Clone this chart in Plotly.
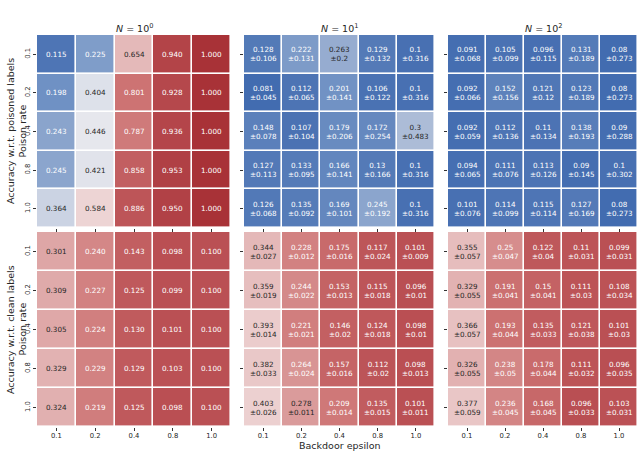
import plotly.graph_objects as go

# ---------------- data ----------------
eps_labels = ["0.1", "0.2", "0.4", "0.8", "1.0"]     # Backdoor epsilon (columns)
rate_labels = ["0.1", "0.2", "0.4", "0.8", "1.0"]    # Poison rate (rows)
panel_titles = ["<i>N</i> = 10<sup>0</sup>", "<i>N</i> = 10<sup>1</sup>", "<i>N</i> = 10<sup>2</sup>"]
row_titles = ["Accuracy w.r.t. poisoned labels", "Accuracy w.r.t. clean labels"]
row_subtitle = "Poison rate"
x_title = "Backdoor epsilon"

# accuracy w.r.t. poisoned labels
poison_n1 = [
    [0.115, 0.225, 0.654, 0.940, 1.000],
    [0.198, 0.404, 0.801, 0.928, 1.000],
    [0.243, 0.446, 0.787, 0.936, 1.000],
    [0.245, 0.421, 0.858, 0.953, 1.000],
    [0.364, 0.584, 0.886, 0.950, 1.000],
]
poison_n10_mean = [
    [0.128, 0.222, 0.263, 0.129, 0.1],
    [0.081, 0.112, 0.201, 0.106, 0.1],
    [0.148, 0.107, 0.179, 0.172, 0.3],
    [0.127, 0.133, 0.166, 0.13, 0.1],
    [0.126, 0.135, 0.169, 0.245, 0.1],
]
poison_n10_std = [
    [0.106, 0.131, 0.2, 0.132, 0.316],
    [0.045, 0.065, 0.141, 0.122, 0.316],
    [0.078, 0.104, 0.206, 0.254, 0.483],
    [0.113, 0.095, 0.141, 0.166, 0.316],
    [0.068, 0.092, 0.101, 0.192, 0.316],
]
poison_n100_mean = [
    [0.091, 0.105, 0.096, 0.131, 0.08],
    [0.092, 0.152, 0.121, 0.123, 0.08],
    [0.092, 0.112, 0.11, 0.138, 0.09],
    [0.094, 0.111, 0.113, 0.09, 0.1],
    [0.101, 0.114, 0.115, 0.127, 0.08],
]
poison_n100_std = [
    [0.068, 0.099, 0.115, 0.189, 0.273],
    [0.066, 0.156, 0.12, 0.189, 0.273],
    [0.059, 0.136, 0.134, 0.193, 0.288],
    [0.065, 0.076, 0.126, 0.145, 0.302],
    [0.076, 0.099, 0.114, 0.169, 0.273],
]

# accuracy w.r.t. clean labels
clean_n1 = [
    [0.301, 0.240, 0.143, 0.098, 0.100],
    [0.309, 0.227, 0.125, 0.099, 0.100],
    [0.305, 0.224, 0.130, 0.101, 0.100],
    [0.329, 0.229, 0.129, 0.103, 0.100],
    [0.324, 0.219, 0.125, 0.098, 0.100],
]
clean_n10_mean = [
    [0.344, 0.228, 0.175, 0.117, 0.101],
    [0.359, 0.244, 0.153, 0.115, 0.096],
    [0.393, 0.221, 0.146, 0.124, 0.098],
    [0.382, 0.264, 0.157, 0.112, 0.098],
    [0.403, 0.278, 0.209, 0.135, 0.101],
]
clean_n10_std = [
    [0.027, 0.012, 0.016, 0.024, 0.009],
    [0.019, 0.022, 0.013, 0.018, 0.01],
    [0.014, 0.021, 0.02, 0.018, 0.01],
    [0.033, 0.024, 0.016, 0.02, 0.013],
    [0.026, 0.011, 0.014, 0.015, 0.011],
]
clean_n100_mean = [
    [0.355, 0.25, 0.122, 0.11, 0.099],
    [0.329, 0.191, 0.15, 0.111, 0.108],
    [0.366, 0.193, 0.135, 0.121, 0.101],
    [0.326, 0.238, 0.178, 0.111, 0.096],
    [0.377, 0.236, 0.168, 0.096, 0.103],
]
clean_n100_std = [
    [0.057, 0.047, 0.04, 0.031, 0.031],
    [0.055, 0.041, 0.041, 0.03, 0.034],
    [0.057, 0.044, 0.033, 0.038, 0.03],
    [0.055, 0.05, 0.044, 0.032, 0.035],
    [0.059, 0.045, 0.045, 0.033, 0.031],
]

# ---------------- style ----------------
W, H = 640, 451
FONT = "DejaVu Sans"
cmap_anchors = [
    (0.0, (40, 92, 170)),
    (0.1, (72, 112, 178)),
    (0.2, (112, 146, 196)),
    (0.3, (172, 188, 215)),
    (0.4, (220, 224, 234)),
    (0.5, (242, 240, 240)),
    (0.6, (236, 207, 207)),
    (0.7, (222, 166, 166)),
    (0.8, (205, 115, 115)),
    (0.9, (186, 80, 84)),
    (1.0, (168, 50, 55)),
]
colorscale = [[t, "rgb(%d,%d,%d)" % c] for t, c in cmap_anchors]


def cmap(t):
    t = min(max(t, 0.0), 1.0)
    for (t0, c0), (t1, c1) in zip(cmap_anchors[:-1], cmap_anchors[1:]):
        if t0 <= t <= t1:
            f = (t - t0) / (t1 - t0) if t1 > t0 else 0
            return tuple(c0[i] + f * (c1[i] - c0[i]) for i in range(3))
    return cmap_anchors[-1][1]


def lum(c):
    def lin(v):
        v = v / 255.0
        return v / 12.92 if v <= 0.03928 else ((v + 0.055) / 1.055) ** 2.4
    r, g, b = (lin(v) for v in c)
    return 0.2126 * r + 0.7152 * g + 0.0722 * b


def fmt(v):
    return str(round(v, 3))


col_px = [(37, 231), (244, 435), (448, 638)]
row_px = [(35, 228), (232, 427)]

panels = [
    # (row, col, means, stds, reversed)
    (0, 0, poison_n1, None, False),
    (0, 1, poison_n10_mean, poison_n10_std, False),
    (0, 2, poison_n100_mean, poison_n100_std, False),
    (1, 0, clean_n1, None, True),
    (1, 1, clean_n10_mean, clean_n10_std, True),
    (1, 2, clean_n100_mean, clean_n100_std, True),
]

fig = go.Figure()
annotations = []
layout = {}

for k, (r, c, means, stds, rev) in enumerate(panels):
    idx = k + 1
    xa = "x" if idx == 1 else "x%d" % idx
    ya = "y" if idx == 1 else "y%d" % idx
    fig.add_trace(go.Heatmap(
        z=means, x=eps_labels, y=rate_labels,
        colorscale=colorscale, reversescale=rev, zmin=0, zmax=1,
        showscale=False, xgap=1.6, ygap=1.6, hoverinfo="skip",
        xaxis=xa, yaxis=ya,
    ))
    x0, x1 = col_px[c]
    y0, y1 = row_px[r]
    xkey = "xaxis" if idx == 1 else "xaxis%d" % idx
    ykey = "yaxis" if idx == 1 else "yaxis%d" % idx
    layout[xkey] = dict(
        domain=[x0 / W, x1 / W], anchor=ya, type="category",
        categoryorder="array", categoryarray=eps_labels,
        showgrid=False, zeroline=False, showline=False,
        ticks="outside", ticklen=3, tickwidth=0.8, tickcolor="#333333",
        showticklabels=(r == 1), ticklabelstandoff=-1,
        tickfont=dict(family=FONT, size=6.8, color="#262626"),
    )
    layout[ykey] = dict(
        domain=[1 - y1 / H, 1 - y0 / H], anchor=xa, type="category",
        categoryorder="array", categoryarray=rate_labels, autorange="reversed",
        showgrid=False, zeroline=False, showline=False,
        ticks="outside", ticklen=3, tickwidth=0.8, tickcolor="#333333",
        showticklabels=(c == 0), tickangle=-90,
        tickfont=dict(family=FONT, size=6.8, color="#262626"),
    )
    for i in range(len(rate_labels)):
        for j in range(len(eps_labels)):
            v = means[i][j]
            if stds is None:
                txt = "%.3f" % v
            else:
                txt = "%s<br>±%s" % (fmt(v), fmt(stds[i][j]))
            col = cmap(1 - v if rev else v)
            tcol = "#262626" if lum(col) > 0.395 else "#ffffff"
            # category axes: position by category index
            annotations.append(dict(
                x=j, y=i, xref=xa, yref=ya, text=txt, showarrow=False,
                font=dict(family=FONT, size=7.2, color=tcol),
                align="center",
            ))

# panel titles
for c, t in enumerate(panel_titles):
    x0, x1 = col_px[c]
    annotations.append(dict(
        x=(x0 + x1) / 2 / W, y=1 - 28 / H, xref="paper", yref="paper",
        text=t, showarrow=False, xanchor="center", yanchor="middle",
        font=dict(family=FONT, size=9.5, color="#262626"),
    ))

# row titles
for r, t in enumerate(row_titles):
    y0, y1 = row_px[r]
    yc = 1 - (y0 + y1) / 2 / H
    annotations.append(dict(
        x=10.5 / W, y=yc, xref="paper", yref="paper", text=t, textangle=-90,
        showarrow=False, xanchor="center", yanchor="middle",
        font=dict(family=FONT, size=9.5, color="#262626"),
    ))
    annotations.append(dict(
        x=22 / W, y=yc, xref="paper", yref="paper", text=row_subtitle, textangle=-90,
        showarrow=False, xanchor="center", yanchor="middle",
        font=dict(family=FONT, size=9.5, color="#262626"),
    ))

# x title
annotations.append(dict(
    x=(col_px[1][0] + col_px[1][1]) / 2 / W, y=1 - 445 / H, xref="paper", yref="paper",
    text=x_title, showarrow=False, xanchor="center", yanchor="middle",
    font=dict(family=FONT, size=9.5, color="#262626"),
))

fig.update_layout(
    width=W, height=H, margin=dict(l=0, r=0, t=0, b=0),
    paper_bgcolor="white", plot_bgcolor="white",
    font=dict(family=FONT, color="#262626"),
    annotations=annotations, **layout,
)

fig.write_html(
    "out.html",
    config={"displayModeBar": False},
    post_script="document.body.style.margin='0';document.body.style.padding='0';",
)
